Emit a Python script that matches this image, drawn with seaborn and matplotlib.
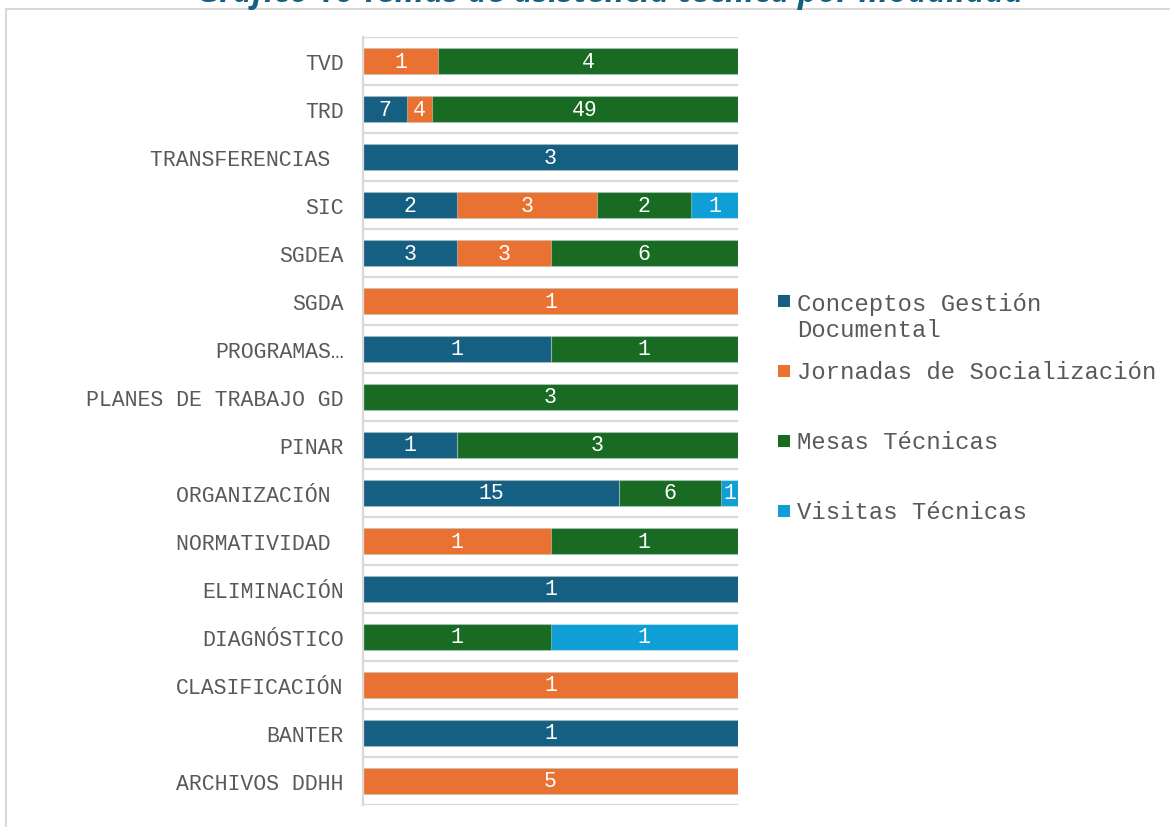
import matplotlib
matplotlib.use("Agg")
import matplotlib.pyplot as plt
import seaborn as sns
import numpy as np
import pandas as pd
from matplotlib.patches import Rectangle

# ---- data (top to bottom as shown) ----
categories = ["TVD", "TRD", "TRANSFERENCIAS ", "SIC", "SGDEA", "SGDA", "PROGRAMAS…",
              "PLANES DE TRABAJO GD", "PINAR", "ORGANIZACIÓN ", "NORMATIVIDAD ",
              "ELIMINACIÓN", "DIAGNÓSTICO", "CLASIFICACIÓN", "BANTER", "ARCHIVOS DDHH"]
conceptos = [0, 7, 3, 2, 3, 0, 1, 0, 1, 15, 0, 1, 0, 0, 1, 0]
jornadas  = [1, 4, 0, 3, 3, 1, 0, 0, 0, 0, 1, 0, 0, 1, 0, 5]
mesas     = [4, 49, 0, 2, 6, 0, 1, 3, 3, 6, 1, 0, 1, 0, 0, 0]
visitas   = [0, 0, 0, 1, 0, 0, 0, 0, 0, 1, 0, 0, 1, 0, 0, 0]
series_names = ["Conceptos Gestión\nDocumental", "Jornadas de Socialización",
                "Mesas Técnicas", "Visitas Técnicas"]
title = "Gráfico 16 Temas de asistencia técnica por modalidad"

colors = ["#156082", "#E97132", "#196B24", "#0F9ED5"]
gray_txt = "#595959"
line_c = "#d9d9d9"
mono = "Liberation Mono"

sns.set_theme(style="white")
plt.rcParams["font.family"] = [mono, "DejaVu Sans"]

vals = np.array([conceptos, jornadas, mesas, visitas], dtype=float)
totals = vals.sum(axis=0)
pct = vals / totals * 100.0
cum = np.cumsum(pct, axis=0)

fig = plt.figure(figsize=(11.7, 8.28), dpi=100)
W, H = 1170, 828
ax = fig.add_axes([363 / W, 1 - 806 / H, (738 - 363) / W, (806 - 38) / H])

df = pd.DataFrame({"cat": categories})
for i in range(3, -1, -1):
    df["v"] = cum[i]
    sns.barplot(data=df, x="v", y="cat", order=categories, orient="h",
                color=colors[i], saturation=1, width=0.56, ax=ax,
                edgecolor=(1, 1, 1, 0.35), linewidth=0.8)

# value labels
for i in range(4):
    for j, c in enumerate(categories):
        v = vals[i, j]
        if v > 0:
            left = cum[i, j] - pct[i, j]
            ax.text(left + pct[i, j] / 2, j, f"{int(v)}", ha="center", va="center",
                    color="white", fontsize=15.5, family=mono)

ax.set_xlim(0, 100)
ax.set_ylim(len(categories) - 0.5, -0.5)
ax.set_xlabel("")
ax.set_ylabel("")
ax.set_xticks([])
for k in range(len(categories) + 1):
    ax.axhline(k - 0.5, color=line_c, lw=1.6, zorder=0.5)
for s in ["top", "right", "bottom"]:
    ax.spines[s].set_visible(False)
ax.spines["left"].set_color(line_c)
ax.spines["left"].set_linewidth(1.6)
ax.tick_params(axis="y", length=0, pad=14, labelsize=15.5, labelcolor=gray_txt)
for t in ax.get_yticklabels():
    t.set_family(mono)

# outer chart border
fig.patches.append(Rectangle((6 / W, -0.1), 1.2, 1.1 - 9.5 / H, transform=fig.transFigure,
                             facecolor="none", edgecolor=line_c, lw=1.5))

# title (partially clipped at top like reference)
fig.text(610 / W, 1 - 2 / H, title, ha="center", va="baseline", fontsize=23.5,
         fontweight="bold", fontstyle="italic", color="#156082", family="Open Sans")

# legend
leg_y = [302, 372, 442, 512]
line_gap = 28
for i, (name, yy) in enumerate(zip(series_names, leg_y)):
    fig.patches.append(Rectangle((778 / W, 1 - (yy + 6) / H), 12 / W, 12 / H,
                                 transform=fig.transFigure, facecolor=colors[i],
                                 edgecolor="none"))
    nlines = name.count("\n")
    fig.text(797 / W, 1 - (yy + 7 + nlines * line_gap) / H, name, ha="left",
             va="baseline", fontsize=17.2, color=gray_txt, family=mono,
             linespacing=1.18)

fig.savefig("out.png", dpi=100)
